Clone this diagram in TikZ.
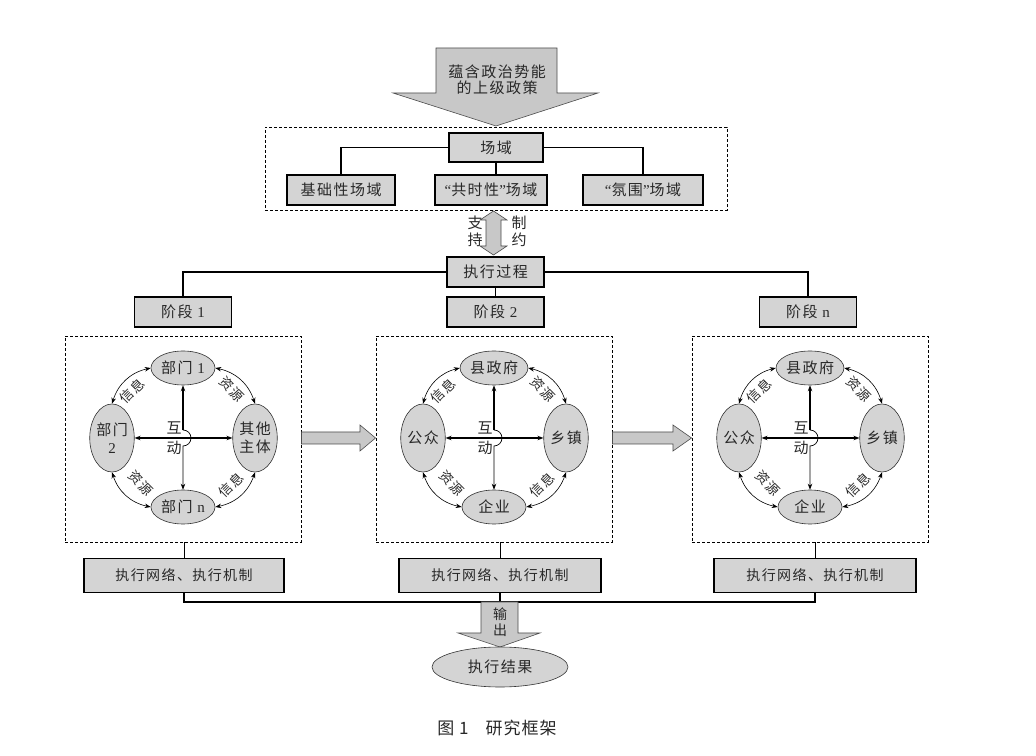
\documentclass[tikz,border=0pt]{standalone}
\usepackage{fontspec}
\setmainfont{Liberation Serif}
\newfontfamily\cjk[LetterSpace=10]{Noto Sans CJK SC}
\newfontfamily\capfont[LetterSpace=6]{Noto Sans CJK SC}
\usetikzlibrary{shapes.geometric,calc,arrows.meta}
\definecolor{boxgray}{RGB}{212,212,212}
\definecolor{arrgray}{RGB}{200,200,200}
\definecolor{txt}{RGB}{40,40,40}
\newcommand\myfs[1]{\fontsize{#1}{#1}\selectfont}
\newcommand\myLq{{\rmfamily “}}
\newcommand\myRq{{\rmfamily ”}}
\tikzset{
 box/.style={draw, line width=1.6pt, fill=boxgray, inner sep=0pt, minimum height=29pt, text=txt, font=\cjk\myfs{15}},
 dbox/.style={draw, line width=0.9pt, dash pattern=on 3pt off 2pt, inner sep=0pt},
 ell/.style={ellipse, draw=black!80, line width=0.6pt, fill=boxgray, inner sep=0pt, text=txt, font=\cjk\fontsize{15}{18}\selectfont, align=center},
 hell/.style={ell, minimum width=64pt, minimum height=34pt},
 vell/.style={ell, minimum width=43pt, minimum height=68pt},
 conn/.style={line width=1.3pt},
 dtip/.style={{Stealth[length=6pt,width=4.5pt]}-{Stealth[length=6pt,width=4.5pt]}},
 stip/.style={-{Stealth[length=6pt,width=4.5pt]}},
 lbl/.style={font=\cjk\fontsize{13.5}{17}\selectfont, inner sep=0pt, text=txt, align=center},
 fatarrow/.style={draw=black!70, line width=0.6pt, fill=arrgray},
}
\newcommand\stagediag[6]{%
 \node[dbox, minimum width=236pt, minimum height=206pt] (#1box) at (#2,316) {};
 \coordinate (#1c) at (#2,317);
 \node[hell] (#1t) at (#2,387) {#3};
 \node[vell] (#1l) at (#2-71,317) {#4};
 \node[vell] (#1r) at (#2+72,317) {#5};
 \node[hell] (#1b) at (#2,248) {#6};
 \draw[line width=1.4pt, stip] ($(#1c)+(0,8)$) -- (#1t.south);
 \draw[line width=0.7pt, stip] ($(#1c)+(0,8)$) arc[start angle=90, end angle=-90, radius=8] -- (#1b.north);
 \draw[line width=1.4pt, dtip] (#1l.east) -- (#1r.west);
 \node[lbl, font=\cjk\fontsize{15}{17}\selectfont] (#1hu) at (#2-9,327) {互};
 \node[lbl, font=\cjk\fontsize{15}{17}\selectfont] (#1dong) at (#2-9,307) {动};
 \draw[line width=0.6pt, dtip] (#1t.west) to[bend right=30] (#1l.north);
 \draw[line width=0.6pt, dtip] (#1t.east) to[bend left=30] (#1r.north);
 \draw[line width=0.6pt, dtip] (#1l.south) to[bend right=30] (#1b.west);
 \draw[line width=0.6pt, dtip] (#1b.east) to[bend right=30] (#1r.south);
 \node[lbl, rotate=45] (#1i1) at (#2-51,364) {信息};
 \node[lbl, rotate=-45] (#1z1) at (#2+49,366) {资源};
 \node[lbl, rotate=-45] (#1z2) at (#2-42,272) {资源};
 \node[lbl, rotate=45] (#1i2) at (#2+48,270) {信息};
}
\begin{document}
\begin{tikzpicture}[x=1pt,y=1pt]
\useasboundingbox (0,0) rectangle (1036,755);
\fill[white] (0,0) rectangle (1036,755);

% top policy arrow
\draw[fatarrow] (436,707) -- (557,707) -- (557,662) -- (598,662) -- (496,629) -- (393,662) -- (436,662) -- cycle;
\node[lbl, font=\cjk\fontsize{15}{16}\selectfont] (policy) at (497,675) {蕴含政治势能\\的上级政策};

% field section
\node[dbox, minimum width=462pt, minimum height=83pt] (fieldbox) at (496,586.5) {};
\node[box, minimum width=94pt] (field) at (496,607.5) {场域};
\node[box, minimum width=108pt, minimum height=30pt] (f1) at (341,565) {基础性场域};
\node[box, minimum width=112pt, minimum height=30pt] (f2) at (491,565) {\myLq 共时性\myRq 场域};
\node[box, minimum width=120pt, minimum height=30pt] (f3) at (643,565) {\myLq 氛围\myRq 场域};
\draw[conn] (field.west) -| (f1.north);
\draw[conn] (field.east) -| (f3.north);
\draw[conn] (field.south) -- (field.south |- f2.north);

% support / constraint double arrow
\draw[fatarrow] (493.5,544) -- (507,535) -- (501,535) -- (501,509) -- (507,509) -- (493.5,500) -- (480,509) -- (486,509) -- (486,535) -- (480,535) -- cycle;
\node[lbl, font=\cjk\fontsize{15}{17}\selectfont] (zhichi) at (475,524) {支\\持};
\node[lbl, font=\cjk\fontsize{15}{17}\selectfont] (zhiyue) at (519,524) {制\\约};

% process and stages
\node[box, minimum width=97pt, minimum height=30pt] (proc) at (495.5,483) {执行过程};
\node[box, minimum width=97pt, minimum height=30pt] (s1) at (183,443) {阶段 {\rmfamily 1}};
\node[box, minimum width=97pt, minimum height=30pt] (s2) at (495.5,443) {阶段 {\rmfamily 2}};
\node[box, minimum width=97pt, minimum height=30pt] (sn) at (808,443) {阶段 {\rmfamily n}};
\draw[conn] (proc.west) -| (s1.north);
\draw[conn] (proc.east) -| (sn.north);
\draw[conn] (proc.south) -- (s2.north);

% stage diagrams
\stagediag{a}{183}{部门 {\rmfamily 1}}{部门\\{\rmfamily 2}}{其他\\主体}{部门 {\rmfamily n}}
\stagediag{b}{494}{县政府}{公众}{乡镇}{企业}
\stagediag{c}{810}{县政府}{公众}{乡镇}{企业}

% arrows between stages
\draw[fatarrow] (abox.east |- 0,323) -- (360,323) -- (360,330) -- (bbox.west |- 0,317) -- (360,304) -- (360,311) -- (abox.east |- 0,311) -- cycle;
\draw[fatarrow] (bbox.east |- 0,323) -- (673,323) -- (673,330) -- (cbox.west |- 0,317) -- (673,304) -- (673,311) -- (bbox.east |- 0,311) -- cycle;

% networks
\node[box, minimum width=200pt, minimum height=34pt, font=\cjk\myfs{14}] (n1) at (184,179.5) {执行网络、执行机制};
\node[box, minimum width=202pt, minimum height=34pt, font=\cjk\myfs{14}] (n2) at (500,179.5) {执行网络、执行机制};
\node[box, minimum width=202pt, minimum height=34pt, font=\cjk\myfs{14}] (n3) at (815,179.5) {执行网络、执行机制};
\draw[line width=0.7pt] (n1.north) -- (n1.north |- abox.south);
\draw[line width=0.7pt] (n2.north) -- (n2.north |- bbox.south);
\draw[line width=0.7pt] (n3.north) -- (n3.north |- cbox.south);
\coordinate (outtop) at (500,153);
\draw[conn] (n1.south) |- (outtop) -| (n3.south);
\draw[conn] (n2.south) -- (outtop);

% output arrow and result
\draw[fatarrow] (481,153) -- (518,153) -- (518,122) -- (540,122) -- (500,108) -- (458,122) -- (481,122) -- cycle;
\node[lbl, font=\cjk\fontsize{14}{16}\selectfont] (shuchu) at (500,133) {输\\出};
\node[ell, minimum width=136pt, minimum height=40pt] (res) at (500,88) {执行结果};

% caption
\node[font=\capfont\myfs{17}, text=txt] (cap) at (497,27) {图 1\quad 研究框架};
\end{tikzpicture}
\end{document}
